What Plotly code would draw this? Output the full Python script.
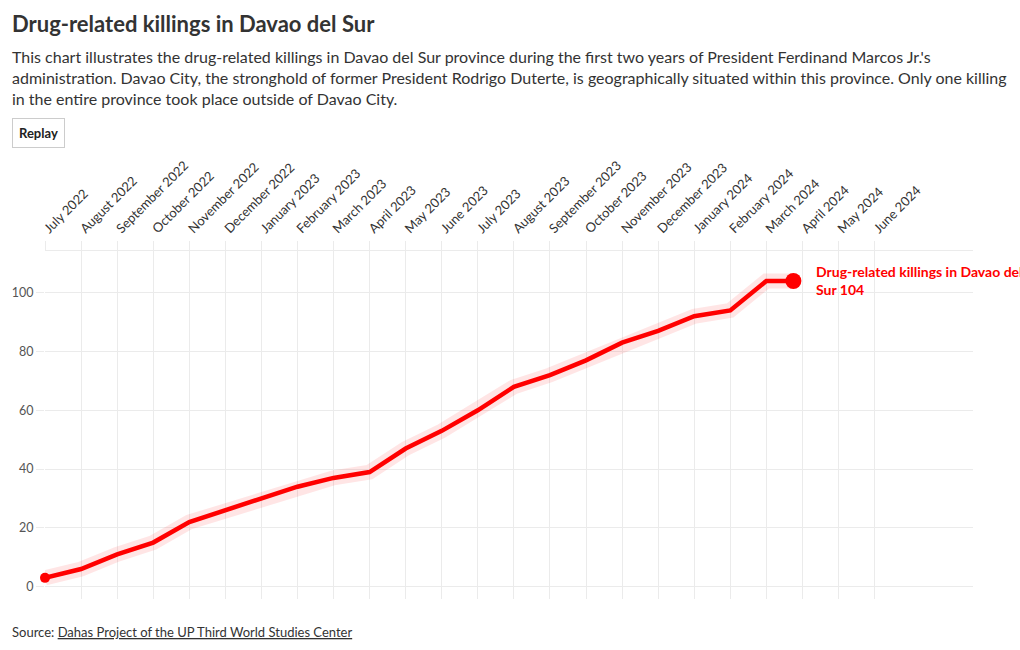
import plotly.graph_objects as go

months = ["July 2022", "August 2022", "September 2022", "October 2022", "November 2022",
          "December 2022", "January 2023", "February 2023", "March 2023", "April 2023",
          "May 2023", "June 2023", "July 2023", "August 2023", "September 2023",
          "October 2023", "November 2023", "December 2023", "January 2024", "February 2024",
          "March 2024", "April 2024", "May 2024", "June 2024"]
killings = [3, 6, 11, 15, 22, 26, 30, 34, 37, 39, 47, 53, 60, 68, 72, 77, 83, 87, 92, 94, 104]
# line end (animated head) sits a little past March 2024, in month units
end_position = 20.75

series_label_lines = ["Drug-related killings in Davao del", "Sur"]
title = "Drug-related killings in Davao del Sur"
subtitle = ("This chart illustrates the drug-related killings in Davao del Sur province during the first two years of President Ferdinand Marcos Jr.'s<br>"
            "administration. Davao City, the stronghold of former President Rodrigo Duterte, is geographically situated within this province. Only one killing<br>"
            "in the entire province took place outside of Davao City.")
source_label = "Source: "
source_link = "Dahas Project of the UP Third World Studies Center"
button_label = "Replay"

FONT = "Source Sans Pro, Lato, sans-serif"
RED = "#ff0000"

W, H = 1020, 650
L, R, T, B = 42, 47, 251, 51
PW, PH = W - L - R, H - T - B

def px(x):
    return (x - L) / PW

def py(y):
    return (H - B - y) / PH

xs = list(range(len(killings))) + [end_position]
ys = killings + [killings[-1]]

fig = go.Figure()
# glow
fig.add_trace(go.Scatter(x=xs, y=ys, mode="lines",
                         line=dict(color="rgba(255,0,0,0.1)", width=15),
                         hoverinfo="skip", showlegend=False, cliponaxis=False))
fig.add_trace(go.Scatter(x=xs, y=ys, mode="lines",
                         line=dict(color=RED, width=4.5), name=" ".join(series_label_lines),
                         showlegend=False, cliponaxis=False))
# start dot
fig.add_trace(go.Scatter(x=[xs[0]], y=[ys[0]], mode="markers",
                         marker=dict(color=RED, size=10), hoverinfo="skip",
                         showlegend=False, cliponaxis=False))
# end dot
fig.add_trace(go.Scatter(x=[xs[-1]], y=[ys[-1]], mode="markers",
                         marker=dict(color=RED, size=16), hoverinfo="skip",
                         showlegend=False, cliponaxis=False))

# end label
fig.add_annotation(x=xs[-1], y=ys[-1], xref="x", yref="y",
                   text=f"<b>{series_label_lines[0]}<br>{series_label_lines[1]} {killings[-1]}</b>",
                   showarrow=False, xanchor="left", yanchor="middle", xshift=21, yshift=0,
                   align="left", font=dict(family=FONT, size=14, color=RED))

fig.add_annotation(x=px(7), y=py(24), xref="paper", yref="paper", text=f"<b>{title}</b>",
                   showarrow=False, xanchor="left", yanchor="middle", align="left",
                   font=dict(family=FONT, size=22, color="#333333"))
fig.add_annotation(x=px(7), y=py(77), xref="paper", yref="paper", text=subtitle,
                   showarrow=False, xanchor="left", yanchor="middle", align="left",
                   font=dict(family=FONT, size=16, color="#333333"))
fig.add_annotation(x=px(7), y=py(632), xref="paper", yref="paper",
                   text=f"{source_label}<u>{source_link}</u>",
                   showarrow=False, xanchor="left", yanchor="middle", align="left",
                   font=dict(family=FONT, size=13, color="#333333"))
# Replay button
fig.add_annotation(x=px(9), y=py(118), xref="paper", yref="paper",
                   text=f"<b>{button_label}</b>", showarrow=False,
                   xanchor="left", yanchor="top", align="center",
                   bgcolor="white", bordercolor="#cccccc", borderwidth=1, borderpad=6,
                   font=dict(family=FONT, size=13, color="#222222"))

fig.update_layout(
    width=W, height=H,
    margin=dict(l=L, r=R, t=T, b=B),
    paper_bgcolor="white", plot_bgcolor="white",
    font=dict(family=FONT),
    xaxis=dict(side="top", range=[0, 25.73], tickmode="array",
               tickvals=list(range(len(months))), ticktext=months, tickangle=-45,
               showgrid=True, gridcolor="#ebebeb", gridwidth=1,
               ticks="outside", ticklen=9, tickcolor="#ebebeb",
               showline=True, linecolor="#ebebeb", linewidth=1,
               zeroline=False, tickfont=dict(family=FONT, size=13, color="#333333")),
    yaxis=dict(range=[-4.2, 114.2], tickvals=[0, 20, 40, 60, 80, 100],
               showgrid=True, gridcolor="#ebebeb", gridwidth=1,
               ticks="outside", ticklen=8, tickcolor="#ebebeb",
               zeroline=False, showline=False,
               tickfont=dict(family=FONT, size=12.5, color="#555555")),
)

fig.write_html("out.html", config={"displayModeBar": False},
               post_script="document.body.style.margin='0';")
